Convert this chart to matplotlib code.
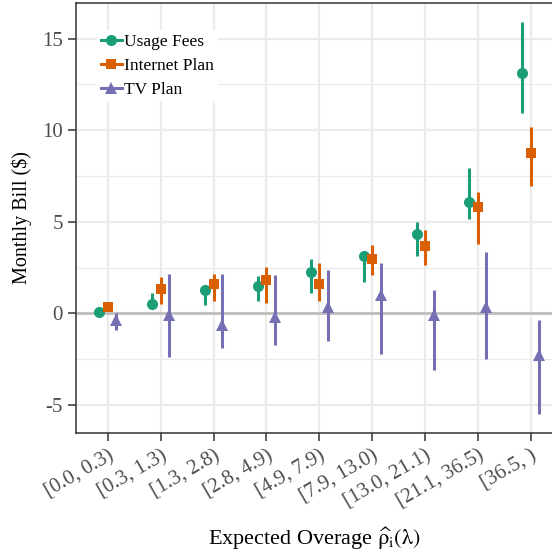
import matplotlib
matplotlib.use("Agg")
import matplotlib.pyplot as plt
from matplotlib.lines import Line2D
import numpy as np

plt.rcParams["font.family"] = ["Liberation Serif", "DejaVu Serif"]
plt.rcParams["mathtext.fontset"] = "stix"

bins = ["[0.0, 0.3)", "[0.3, 1.3)", "[1.3, 2.8)", "[2.8, 4.9)", "[4.9, 7.9)",
        "[7.9, 13.0)", "[13.0, 21.1)", "[21.1, 36.5)", "[36.5, )"]

usage = [0.09, 0.52, 1.27, 1.50, 2.25, 3.13, 4.33, 6.09, 13.13]
usage_lo = [0.0, 0.30, 0.45, 0.66, 1.12, 1.73, 3.14, 5.15, 10.95]
usage_hi = [0.20, 1.09, 1.50, 2.04, 2.95, 3.35, 4.98, 7.95, 15.88]

internet = [0.33, 1.31, 1.58, 1.82, 1.62, 2.95, 3.69, 5.82, 8.73]
internet_lo = [0.20, 0.51, 0.69, 0.55, 0.69, 2.09, 2.62, 3.78, 6.97]
internet_hi = [0.45, 1.97, 2.13, 2.53, 2.73, 3.73, 4.55, 6.60, 10.19]

tv = [-0.37, -0.10, -0.64, -0.21, 0.36, 1.00, -0.10, 0.36, -2.29]
tv_lo = [-0.91, -2.40, -1.91, -1.70, -1.51, -2.22, -3.10, -2.48, -5.51]
tv_hi = [0.03, 2.16, 2.13, 2.12, 2.35, 2.73, 1.26, 3.36, -0.37]

series = [
    ("Usage Fees", usage, usage_lo, usage_hi, "#1B9E77", "o", 8.0),
    ("Internet Plan", internet, internet_lo, internet_hi, "#D95F02", "s", 7.2),
    ("TV Plan", tv, tv_lo, tv_hi, "#7570B3", "^", 8.5),
]
offsets = [-0.16, 0.0, 0.16]

fig = plt.figure(figsize=(5.52, 5.52), dpi=100)
ax = fig.add_axes([76 / 552, 119 / 552, 476 / 552, 430 / 552])

x = np.arange(1, len(bins) + 1)

ax.axhline(0, color="#bebebe", lw=2.0, zorder=1)

handles = []
for (name, vals, lo, hi, col, mk, ms), off in zip(series, offsets):
    vals = np.array(vals)
    yerr = np.array([vals - np.array(lo), np.array(hi) - vals])
    ax.errorbar(x + off, vals, yerr=yerr, fmt=mk, color=col, ms=ms,
                elinewidth=2.2, capsize=0, mew=0, zorder=3)
    handles.append(Line2D([], [], color=col, marker=mk, ms=ms, lw=2.2, mew=0))

ax.set_xlim(0.4, 9.4)
ax.set_ylim(-6.53, 16.94)
ax.set_xticks(x)
ax.set_xticklabels(bins, rotation=30, ha="right", rotation_mode="anchor")
ax.set_yticks([-5, 0, 5, 10, 15])
ax.set_yticklabels(["-5", "0", "5", "10", "15"])
ax.set_yticks([-2.5, 2.5, 7.5, 12.5], minor=True)

ax.grid(True, which="major", color="#ebebeb", lw=1.6, zorder=0)
ax.grid(True, which="minor", axis="y", color="#ebebeb", lw=0.9, zorder=0)
ax.set_axisbelow(True)

for s in ["left", "bottom", "top"]:
    ax.spines[s].set_color("#333333")
    ax.spines[s].set_linewidth(1.1)
ax.spines["right"].set_visible(False)

ax.tick_params(axis="both", which="major", labelsize=15, colors="#333333",
               labelcolor="#4d4d4d", length=5.5, width=1.1, pad=4)
ax.tick_params(axis="y", which="minor", length=0)

ax.set_ylabel("Monthly Bill ($)", fontsize=14.5, labelpad=7)
ax.set_xlabel(r"Expected Overage $\widehat{\mathrm{\rho}}_{\mathrm{i}}(\mathrm{\lambda})$",
              fontsize=16, labelpad=10)

leg = ax.legend(handles, [s[0] for s in series], loc="upper left",
                bbox_to_anchor=(0.045, 0.937), frameon=True, fontsize=12.5,
                handlelength=1.2, handletextpad=0.15, labelspacing=0.45,
                borderpad=0.2, borderaxespad=0)
leg.get_frame().set_facecolor("white")
leg.get_frame().set_edgecolor("none")
leg.get_frame().set_alpha(1)

fig.savefig("out.png", dpi=100)
